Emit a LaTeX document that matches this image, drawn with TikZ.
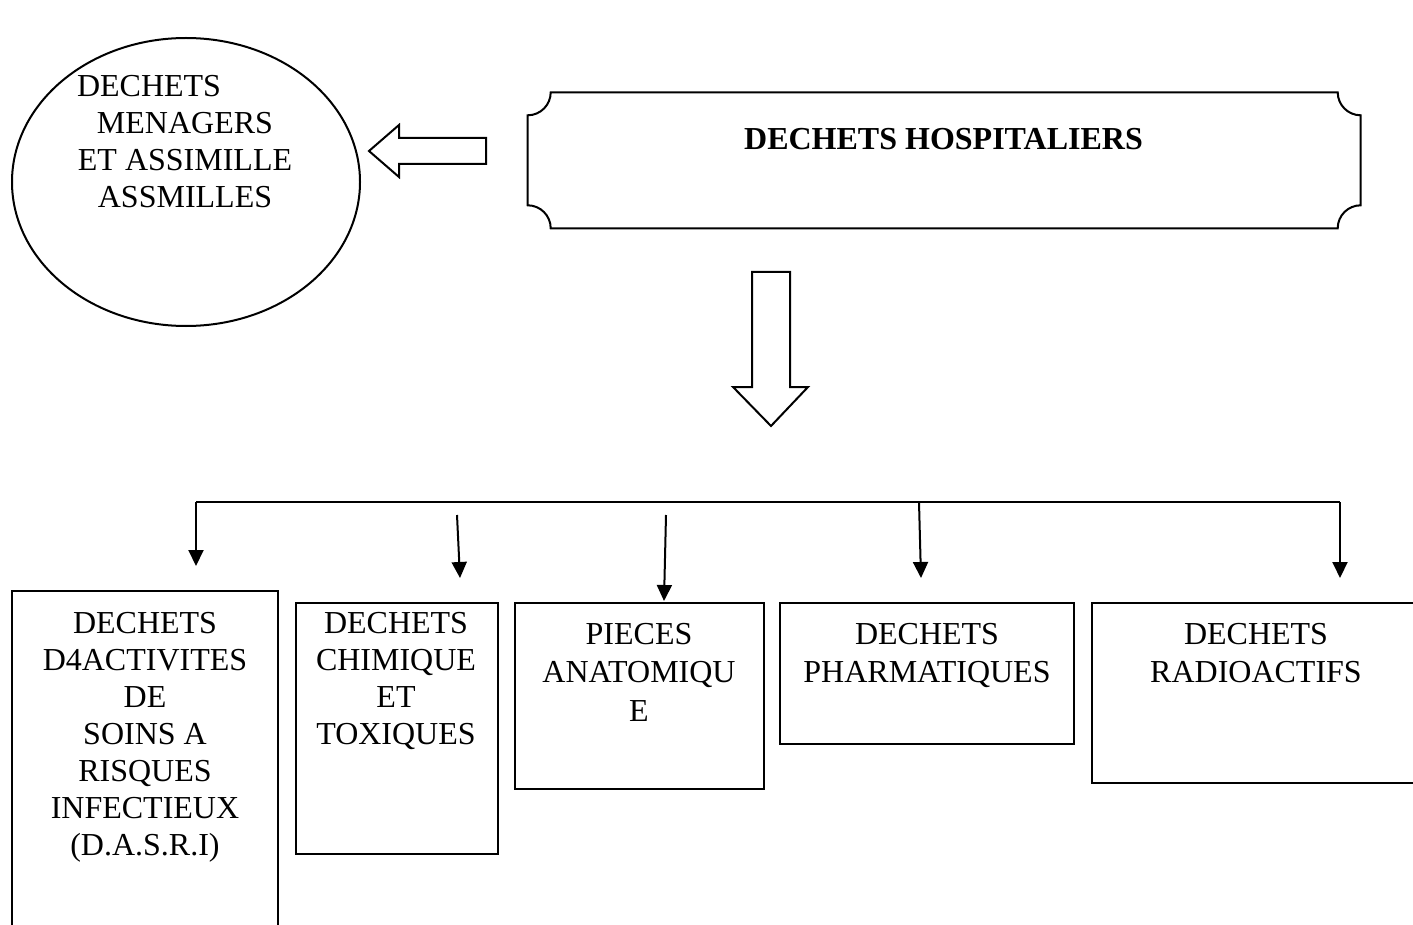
\documentclass[tikz,border=0pt]{standalone}
\usepackage{fontspec}
\setmainfont{Liberation Serif}
\usetikzlibrary{shapes.geometric,arrows.meta}
\tikzset{
  ln/.style={line width=2pt, line join=miter},
  boxnode/.style={ln, draw, rectangle, anchor=north west, inner sep=0pt, outer sep=0pt},
  txt/.style={anchor=north, inner sep=0pt, align=center, font=\fontsize{32}{37}\selectfont},
  txtb/.style={anchor=north, inner sep=0pt, align=center, font=\fontsize{32}{38.5}\selectfont},
  arr/.style={ln, -{Triangle[width=15pt,length=16pt]}}
}
\begin{document}
\begin{tikzpicture}[x=1pt,y=-1pt]
\useasboundingbox (0,0) rectangle (1413,925);
\clip (0,0) rectangle (1413,925);
\fill[white] (0,0) rectangle (1413,925);

% ellipse
\node[ln, draw, ellipse, minimum width=348pt, minimum height=288pt, inner sep=0pt] (men) at (186,182) {};
\node[txt] (mentext) at (185,75) {\makebox[216pt][l]{DECHETS}\\MENAGERS\\ET ASSIMILLE\\ASSMILLES};

% left block arrow
\draw[ln] (369,151) -- (399,125) -- (399,138) -- (486,138) -- (486,164) -- (399,164) -- (399,177) -- cycle;

% plaque
\draw[ln] (550.7,92.3) -- (1337.7,92.3) arc[start angle=180, end angle=270, radius=23pt]
  -- (1360.7,205.3) arc[start angle=90, end angle=180, radius=23pt]
  -- (550.7,228.3) arc[start angle=0, end angle=90, radius=23pt]
  -- (527.7,115.3) arc[start angle=-90, end angle=0, radius=23pt] -- cycle;
\node[txt, font=\bfseries\fontsize{32}{37}\selectfont] (hosp) at (943.5,128) {DECHETS HOSPITALIERS};

% down block arrow
\draw[ln] (771,426) -- (733,387) -- (752,387) -- (752,272) -- (790,272) -- (790,387) -- (808,387) -- cycle;

% branch line and arrows
\coordinate (bl) at (196,502);
\coordinate (br) at (1340,502);
\coordinate (bm) at (919,502);
\coordinate (s2) at (457,515);
\coordinate (s3) at (666,515);
\coordinate (t1) at (196,566);
\coordinate (t2) at (460,578);
\coordinate (t3) at (664,601);
\coordinate (t4) at (921,578);
\coordinate (t5) at (1340,578);
\draw[ln] (bl) -- (br);
\draw[arr] (bl) -- (t1);
\draw[arr] (s2) -- (t2);
\draw[arr] (s3) -- (t3);
\draw[arr] (bm) -- (t4);
\draw[arr] (br) -- (t5);

% boxes
\node[boxnode, minimum width=266pt, minimum height=350pt] (b1) at (12,591) {};
\node[boxnode, minimum width=202pt, minimum height=251pt] (b2) at (296,603) {};
\node[boxnode, minimum width=249pt, minimum height=186pt] (b3) at (515,603) {};
\node[boxnode, minimum width=294pt, minimum height=141pt] (b4) at (780,603) {};
\node[boxnode, minimum width=328pt, minimum height=180pt] (b5) at (1092,603) {};

\node[txt] (x1) at (145,612) {DECHETS\\D4ACTIVITES\\DE\\SOINS A\\RISQUES\\INFECTIEUX\\(D.A.S.R.I)};
\node[txt] (x2) at (396,612) {DECHETS\\CHIMIQUE\\ET\\TOXIQUES};
\node[txtb] (x3) at (639,623) {PIECES\\ANATOMIQU\\E};
\node[txtb] (x4) at (927,623) {DECHETS\\PHARMATIQUES};
\node[txtb] (x5) at (1256,623) {DECHETS\\RADIOACTIFS};
\end{tikzpicture}
\end{document}
